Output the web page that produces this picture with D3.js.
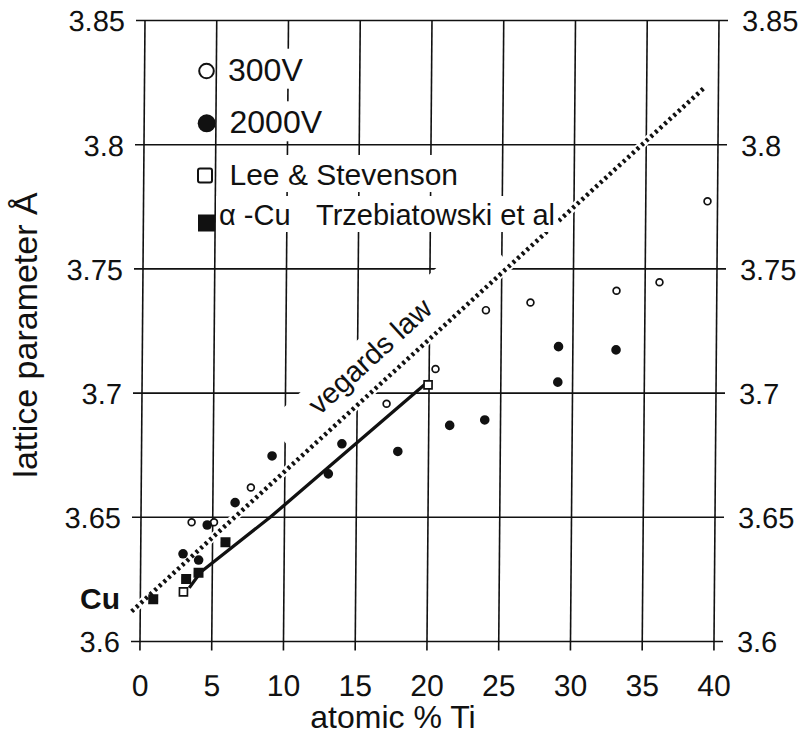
<!DOCTYPE html>
<html><head><meta charset="utf-8">
<script src="https://cdn.jsdelivr.net/npm/d3@7"></script>
<style>
body{margin:0;background:#fff}
svg{display:block}
text{font-family:"Liberation Sans",Arial,Helvetica,sans-serif;fill:#111}
</style>
</head><body>
<svg id="c" width="806" height="747"></svg>
<script>
// ---- data ----
const xTicks = [0, 5, 10, 15, 20, 25, 30, 35, 40];
const yTicks = [3.6, 3.65, 3.7, 3.75, 3.8, 3.85];
const yTickLabels = ["3.6", "3.65", "3.7", "3.75", "3.8", "3.85"];
const xTickLabels = ["0", "5", "10", "15", "20", "25", "30", "35", "40"];

const series300V = [[3.53,3.648],[5.09,3.648],[7.64,3.662],[17.05,3.6957],[20.44,3.7097],
  [23.92,3.7334],[27.02,3.7365],[33.01,3.7412],[36.0,3.7446],[39.3,3.7772]];
const series2000V = [[2.95,3.6353],[4.04,3.6328],[4.62,3.6469],[6.55,3.6559],[9.1,3.6747],
  [13.03,3.6675],[13.96,3.6796],[17.86,3.6765],[21.46,3.687],[23.9,3.6892],
  [28.97,3.7044],[29.0,3.7187],[33.01,3.7174]];
const leeStevenson = [[3.0,3.62],[19.93,3.7033]];
const trzebiatowski = [[0.9,3.617],[3.18,3.6252],[4.04,3.6277],[5.9,3.64]];
const fitLine = [[3.4,3.6216],[4.2,3.628],[9,3.65],[20,3.705]];
const vegardLine = [[-0.6,3.6121],[39.1,3.8234]];
const legendLabels = ["300V", "2000V", "Lee & Stevenson", "α -Cu", "Trzebiatowski et al"];
const xTitle = "atomic % Ti";
const yTitle = "lattice parameter Å";
const cuLabel = "Cu";
const vegardLabel = "vegards law";

// ---- scales ----
const x = d3.scaleLinear().domain([0, 40]).range([140, 714]);
const y = d3.scaleLinear().domain([3.6, 3.85]).range([641.5, 20.5]);

const svg = d3.select("#c");
// slight scan shear of the original
const g = svg.append("g").attr("transform", "translate(5.16,0) skewX(-0.461)");

const ink = "#111";

// gridlines / frame
g.append("g").selectAll("line").data(yTicks).join("line")
  .attr("x1", x(0) - 9).attr("x2", x(40) + 9)
  .attr("y1", d => y(d)).attr("y2", d => y(d))
  .attr("stroke", ink).attr("stroke-width", 1.6);
g.append("g").selectAll("line").data(xTicks).join("line")
  .attr("x1", d => x(d)).attr("x2", d => x(d))
  .attr("y1", y(3.85)).attr("y2", y(3.6) + 9)
  .attr("stroke", ink).attr("stroke-width", 1.6);

// axes labels using d3 axes
const axL = d3.axisLeft(y).tickValues(yTicks).tickSize(0).tickPadding(20)
  .tickFormat((d, i) => yTickLabels[i]);
const gl = g.append("g").attr("transform", `translate(${x(0)},0)`).call(axL);
gl.select(".domain").remove();
gl.selectAll("text").attr("font-size", 29).attr("font-family", "Liberation Sans, Arial, sans-serif")
  .attr("fill", ink).attr("dy", "0.36em");

const axR = d3.axisRight(y).tickValues(yTicks).tickSize(0).tickPadding(23)
  .tickFormat((d, i) => yTickLabels[i]);
const gr = g.append("g").attr("transform", `translate(${x(40)},0)`).call(axR);
gr.select(".domain").remove();
gr.selectAll("text").attr("font-size", 29).attr("font-family", "Liberation Sans, Arial, sans-serif")
  .attr("fill", ink).attr("dy", "0.36em");

const axB = d3.axisBottom(x).tickValues(xTicks).tickSize(0).tickPadding(0)
  .tickFormat((d, i) => xTickLabels[i]);
const gb = g.append("g").attr("transform", `translate(0,${y(3.6)})`).call(axB);
gb.select(".domain").remove();
gb.selectAll("text").attr("font-size", 30).attr("font-family", "Liberation Sans, Arial, sans-serif")
  .attr("fill", ink).attr("y", 54.5).attr("dy", 0);

// vegard geometry
const vp0 = [x(vegardLine[0][0]), y(vegardLine[0][1])];
const vp1 = [x(vegardLine[1][0]), y(vegardLine[1][1])];
const ang = Math.atan2(vp1[1] - vp0[1], vp1[0] - vp0[0]);
const angDeg = ang * 180 / Math.PI;
const vAt = xv => {
  const t = (xv - vegardLine[0][0]) / (vegardLine[1][0] - vegardLine[0][0]);
  return [vp0[0] + t * (vp1[0] - vp0[0]), vp0[1] + t * (vp1[1] - vp0[1])];
};
// white label box of the "vegards law" text
const bA = vAt(11.0), bB = vAt(25.6);
const bLen = Math.hypot(bB[0] - bA[0], bB[1] - bA[1]);
g.append("rect")
  .attr("transform", `translate(${bA[0]},${bA[1]}) rotate(${angDeg})`)
  .attr("x", 0).attr("y", -48).attr("width", bLen).attr("height", 48)
  .attr("fill", "#fff");
const tA = vAt(13.2);
g.append("text")
  .attr("transform", `translate(${tA[0]},${tA[1]}) rotate(${angDeg})`)
  .attr("x", 0).attr("y", -17.7)
  .attr("font-size", 29).text(vegardLabel);

// vegard line
const lineGen = d3.line().x(d => x(d[0])).y(d => y(d[1]));
g.append("path").datum(vegardLine).attr("d", lineGen)
  .attr("fill", "none").attr("stroke", "#fff").attr("stroke-width", 8);
g.append("path").datum(vegardLine).attr("d", lineGen)
  .attr("fill", "none").attr("stroke", ink).attr("stroke-width", 4.5)
  .attr("stroke-dasharray", "2.8 3.4");

// fit line
g.append("path").datum(fitLine).attr("d", lineGen)
  .attr("fill", "none").attr("stroke", ink).attr("stroke-width", 3.3)
  .attr("stroke-linejoin", "round");

// points
g.append("g").selectAll("circle").data(series300V).join("circle")
  .attr("cx", d => x(d[0])).attr("cy", d => y(d[1])).attr("r", 3.4)
  .attr("fill", "#fff").attr("stroke", ink).attr("stroke-width", 1.7);
g.append("g").selectAll("circle").data(series2000V).join("circle")
  .attr("cx", d => x(d[0])).attr("cy", d => y(d[1])).attr("r", 4.8)
  .attr("fill", ink);
g.append("g").selectAll("rect").data(leeStevenson).join("rect")
  .attr("x", d => x(d[0]) - 4).attr("y", d => y(d[1]) - 4).attr("width", 8).attr("height", 8)
  .attr("fill", "#fff").attr("stroke", ink).attr("stroke-width", 1.7);
g.append("g").selectAll("rect").data(trzebiatowski).join("rect")
  .attr("x", d => x(d[0]) - 5).attr("y", d => y(d[1]) - 5).attr("width", 10).attr("height", 10)
  .attr("fill", ink);

// legend (absolute layout)
const legendText = [
  {t: legendLabels[0], x: 228, y: 80.7, fs: 32},
  {t: legendLabels[1], x: 229.5, y: 133.3, fs: 32},
  {t: legendLabels[2], x: 229.5, y: 185, fs: 30},
  {t: legendLabels[3], x: 219, y: 225, fs: 29},
  {t: legendLabels[4], x: 316, y: 225, fs: 29}
];
const lg = svg.append("g");
const boxes = lg.append("g");
const texts = lg.append("g").selectAll("text").data(legendText).join("text")
  .attr("x", d => d.x).attr("y", d => d.y).attr("font-size", d => d.fs).text(d => d.t);
texts.each(function() {
  const b = this.getBBox();
  boxes.append("rect").attr("x", b.x - 3).attr("y", b.y - 3)
    .attr("width", b.width + 6).attr("height", b.height + 4).attr("fill", "#fff");
});
lg.append("circle").attr("cx", 206.5).attr("cy", 71).attr("r", 7.3)
  .attr("fill", "#fff").attr("stroke", ink).attr("stroke-width", 2);
lg.append("circle").attr("cx", 206.7).attr("cy", 123.3).attr("r", 9).attr("fill", ink);
lg.append("rect").attr("x", 198).attr("y", 168.5).attr("width", 14).attr("height", 14).attr("rx", 2)
  .attr("fill", "#fff").attr("stroke", ink).attr("stroke-width", 2);
lg.append("rect").attr("x", 198).attr("y", 214.5).attr("width", 17).attr("height", 17).attr("fill", ink);

// Cu label
svg.append("text").attr("x", 80).attr("y", 609).attr("font-size", 30)
  .attr("font-weight", "bold").text(cuLabel);

// axis titles
svg.append("text").attr("x", 393).attr("y", 728).attr("text-anchor", "middle")
  .attr("font-size", 32).text(xTitle);
svg.append("text").attr("transform", "translate(37,335) rotate(-90)")
  .attr("text-anchor", "middle").attr("font-size", 34).text(yTitle);
</script>
</body></html>
